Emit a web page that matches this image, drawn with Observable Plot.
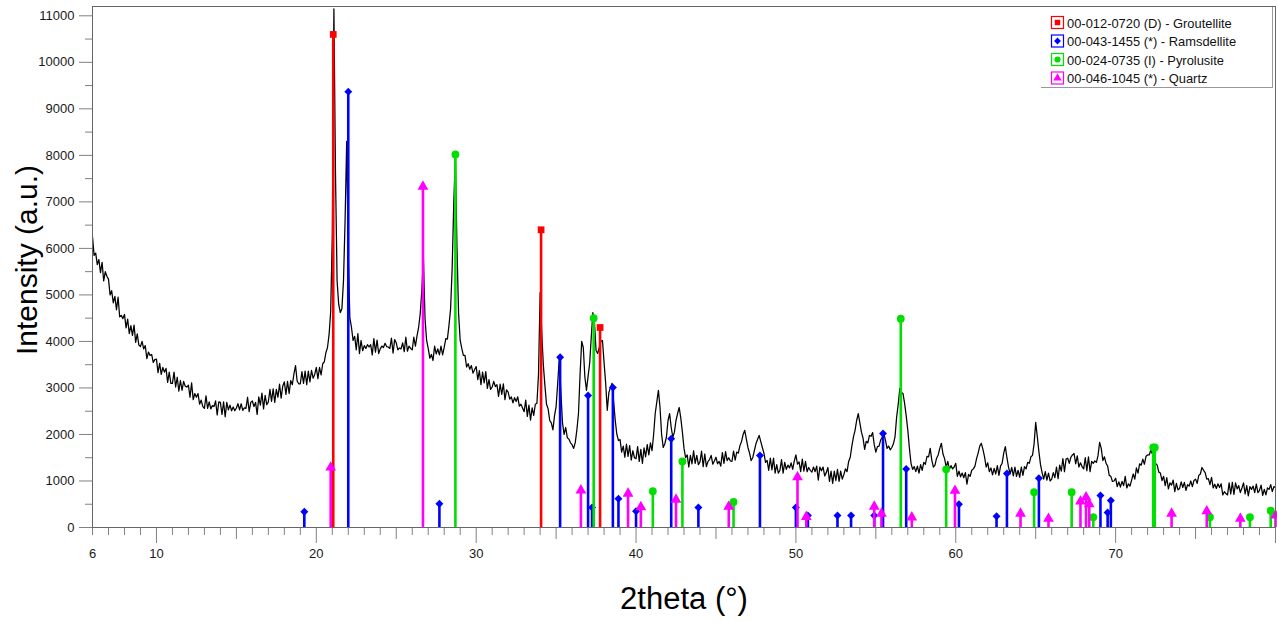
<!DOCTYPE html>
<html><head><meta charset="utf-8">
<script src="https://cdn.jsdelivr.net/npm/d3@7"></script>
<script src="https://cdn.jsdelivr.net/npm/@observablehq/plot@0.6"></script>
<style>
body{margin:0;background:#fff;font-family:"Liberation Sans",Arial,sans-serif}
#wrap{position:relative;width:1277px;height:622px}
#legend{position:absolute;left:1041px;top:7px;width:231px;height:80px;background:#fff;border-right:1px solid #999;border-bottom:1px solid #999;}
</style></head><body><div id="wrap"></div>
<script>
// scan: 2theta from 6 to 80 in steps of 0.1
const scanStart = 6, scanStep = 0.1;
const intensity = [
6250,5850,5900,5650,5760,5480,5700,5300,5500,5400,
5340,5000,5090,4830,4970,4680,4950,4530,4560,4490,
4580,4290,4480,4170,4340,4130,4350,3980,4160,3920,
3890,4000,3840,3910,3630,3770,3700,3720,3550,3610,
3620,3330,3530,3290,3440,3340,3420,3120,3340,3100,
3100,3340,3020,3230,2930,3160,2950,3140,3040,3020,
3060,2800,3110,2750,2880,2800,2880,2650,2740,2600,
2560,2830,2560,2700,2550,2620,2600,2720,2420,2700,
2690,2430,2700,2380,2690,2530,2630,2510,2590,2510,
2570,2660,2530,2660,2520,2570,2560,2800,2490,2690,
2720,2600,2690,2430,2810,2630,2890,2550,2840,2640,
2700,2970,2710,2980,2690,2970,2800,3080,2780,3040,
3130,2860,3140,2880,3160,3070,3300,3480,3150,3090,
3090,3350,3100,3360,3070,3360,3130,3380,3210,3290,
3440,3200,3440,3280,3520,3560,3760,3870,4150,4650,
6300,11150,7600,5300,4800,4620,4700,5300,6600,8300,
5800,4500,4300,4020,4110,3820,4170,3740,4020,3800,
3910,3850,3930,3880,3930,3710,4060,3770,4030,3740,
3840,3900,3870,3960,3890,3880,3850,4070,3750,4040,
3970,3820,3860,3840,3970,3780,4090,3790,3900,3850,
3820,4090,3900,4120,4300,4600,5100,5800,4500,4020,
3850,3640,3720,3590,3900,3730,3840,3710,3900,3710,
3870,4060,4050,4350,4700,5600,7000,7950,6000,4600,
4020,3850,3700,3700,3450,3520,3400,3480,3320,3390,
3460,3180,3370,3070,3340,3110,3350,2990,3180,2970,
3020,3140,3030,3070,2820,3080,2860,3090,2750,2960,
2910,2760,2810,2680,2790,2710,2810,2610,2650,2570,
2490,2740,2390,2630,2310,2570,2410,2650,2670,3300,
5050,4200,3500,3050,2650,2550,2300,2250,2100,2400,
2600,3100,3650,2900,2250,2000,2150,1930,1900,1820,
1780,1700,1830,2100,2450,3300,4000,3870,3230,2950,
3250,3530,4100,4620,4400,3800,3740,3870,4000,4020,
3550,3100,2520,2900,3010,3100,2700,2300,2000,1870,
1890,1620,1750,1510,1790,1530,1760,1450,1650,1500,
1480,1740,1420,1680,1380,1710,1520,1780,1560,1820,
1650,2000,2450,2700,2950,2580,2000,1720,1800,1940,
2300,2450,2150,1940,2050,2300,2450,2580,2350,2050,
1700,1500,1560,1300,1550,1370,1650,1380,1550,1350,
1410,1640,1310,1580,1310,1420,1460,1550,1360,1430,
1510,1370,1420,1320,1610,1380,1630,1440,1500,1430,
1420,1640,1450,1620,1600,1760,1850,2000,2090,1900,
1720,1600,1440,1500,1650,1800,1890,1980,1850,1720,
1600,1400,1440,1230,1490,1240,1490,1170,1350,1170,
1230,1460,1170,1400,1250,1340,1280,1390,1250,1430,
1560,1360,1410,1200,1470,1210,1420,1200,1290,1230,
1190,1300,1200,1320,1020,1300,1220,1300,1110,1180,
1290,990,1210,950,1210,1010,1250,990,1210,1040,
1140,1260,1200,1420,1510,1750,1950,2090,2300,2450,
2250,2050,1920,1680,1850,1820,1980,1960,2040,1780,
1620,1740,1750,1880,1940,2020,1880,1700,1750,1670,
1720,1800,1950,2370,2650,2990,2900,2880,2670,2400,
2090,1700,1380,1250,1310,1200,1320,1170,1350,1230,
1400,1360,1530,1520,1700,1450,1300,1340,1490,1560,
1700,1810,1580,1480,1300,1420,1250,1330,1260,1300,
1380,1100,1210,1090,1170,1070,1180,930,1140,1100,
1230,1260,1320,1480,1600,1750,1810,1680,1520,1300,
1390,1200,1280,1130,1270,1150,1330,1120,1320,1380,
1600,1740,1500,1300,1150,1290,1110,1300,1100,1230,
1080,1300,1120,1310,1260,1400,1380,1520,1550,1800,
2260,1950,1630,1350,1180,1040,1200,1020,1170,1000,
1040,1180,1070,1300,1050,1340,1210,1480,1200,1470,
1490,1380,1510,1560,1590,1370,1540,1300,1390,1310,
1260,1500,1220,1520,1200,1420,1380,1430,1400,1550,
1830,1700,1440,1520,1380,1320,1120,1100,990,1000,
1060,880,980,870,990,900,1100,850,940,890,
1020,1150,1040,1280,1170,1370,1340,1470,1360,1530,
1560,1560,1660,1580,1530,1380,1340,1190,1170,1010,
1100,900,1070,830,960,910,1020,770,950,810,
840,980,860,970,800,920,890,1000,880,1010,
1040,950,1120,1150,1290,1230,1180,1040,1050,920,
1080,850,930,840,940,860,940,700,770,730,
700,960,720,970,710,960,830,900,750,850,
960,720,900,680,880,820,890,750,930,750,
800,910,690,820,700,850,820,920,770,880,
860
];

// reference patterns: [2theta, intensity]
const groutellite = [[21.06,10600],[34.06,6400],[37.75,4300]];
const ramsdellite = [[19.25,340],[22.0,9370],[27.7,510],[35.25,3660],[37.0,2840],[37.25,430],[38.55,3010],[38.9,620],[40.0,350],[42.2,1910],[43.9,430],[47.75,1550],[50.0,430],[50.75,260],[52.6,260],[53.45,260],[54.9,260],[55.45,2020],[56.9,1260],[60.2,500],[62.55,240],[63.2,1160],[65.2,1060],[69.05,690],[69.5,320],[69.7,580]];
const pyrolusite = [[28.7,8020],[37.35,4500],[41.05,780],[42.9,1420],[46.1,550],[56.56,4490],[59.4,1250],[64.9,760],[67.25,760],[68.6,220],[72.35,1720],[72.45,1720],[75.9,220],[78.4,220],[79.7,360]];
const quartz = [[20.9,1290],[26.67,7330],[36.55,800],[39.5,730],[40.3,440],[42.5,600],[45.8,450],[50.1,1080],[50.65,230],[54.9,450],[55.35,300],[57.25,220],[59.95,790],[64.05,300],[65.8,190],[67.8,560],[68.15,650],[68.35,500],[73.5,300],[75.7,350],[77.8,190],[80.0,260]];

const phaseNames = ["00-012-0720 (D) - Groutellite","00-043-1455 (*) - Ramsdellite","00-024-0735 (I) - Pyrolusite","00-046-1045 (*) - Quartz"];
const phaseColors = ["#ff0000","#0000ff","#00e000","#ff00ff"];
const phaseSymbols = ["square","diamond2","circle","triangle"];
const phaseRadius = [3.8,3.6,3.9,4.0];
const phases = [groutellite, ramsdellite, pyrolusite, quartz];

const yTicks = d3.range(0, 11001, 1000);
const yMinor = d3.range(500, 11000, 1000);
const xLabels = [6,10,20,30,40,50,60,70];
const xMajor = [10,20,30,40,50,60,70,80];
const xMid = [15,25,35,45,55,65,75];
const xMinor = d3.range(6, 81).filter(v => v % 5 !== 0);

const scan = intensity.map((v, i) => ({t: scanStart + i * scanStep, v}));
const tick = "#808080";

const stickMarks = phases.flatMap((p, k) => {
  const rows = p.map(([t, v]) => ({t, v}));
  return [
    Plot.ruleX(rows, {x: "t", y1: 0, y2: "v", stroke: phaseColors[k], strokeWidth: 2.6}),
    Plot.dot(rows, {x: "t", y: "v", symbol: phaseSymbols[k], r: phaseRadius[k], fill: phaseColors[k], stroke: "none"})
  ];
});

const chart = Plot.plot({
  width: 1277, height: 622,
  marginLeft: 92, marginRight: 2, marginTop: 6, marginBottom: 95,
  x: {domain: [6, 80], label: null},
  y: {domain: [0, 11200], label: null},
  style: {fontFamily: "'Liberation Sans', Arial, sans-serif", fontSize: "13px", color: "#1a1a1a", background: "#fff"},
  marks: [
    Plot.line(scan, {x: "t", y: "v", stroke: "#000", strokeWidth: 1.25, strokeLinejoin: "round"}),
    ...stickMarks,
    Plot.axisY({ticks: yTicks, tickSize: 13, tickPadding: 5, tickFormat: d => String(d), stroke: tick, label: null}),
    Plot.axisY({ticks: yMinor, tickSize: 7, tickFormat: () => "", stroke: tick, label: null}),
    Plot.axisX({ticks: xMinor, tickSize: 8, tickFormat: () => "", stroke: tick, label: null}),
    Plot.axisX({ticks: xMid, tickSize: 12, tickFormat: () => "", stroke: tick, label: null}),
    Plot.axisX({ticks: xMajor, tickSize: 16, tickFormat: () => "", stroke: tick, label: null}),
    Plot.axisX({ticks: xLabels, tickSize: 0, tickPadding: 21, tickFormat: d => String(d), label: null}),
    Plot.frame({stroke: "#666"}),
    Plot.text(["Intensity (a.u.)"], {frameAnchor: "left", textAnchor: "middle", lineAnchor: "middle", rotate: -90, dx: -65, dy: -7, fontSize: 30, fill: "#000"}),
    Plot.text(["2theta (°)"], {frameAnchor: "bottom", textAnchor: "middle", lineAnchor: "middle", dy: 72, fontSize: 31, fill: "#000"})
  ]
});
const wrap = document.getElementById("wrap");
wrap.appendChild(chart);

// legend (inside plot, top-right)
const leg = d3.select(wrap).append("div").attr("id", "legend");
const svg = leg.append("svg").attr("width", 231).attr("height", 80);
const symMap = {square: d3.symbolSquare, diamond2: d3.symbolDiamond2, circle: d3.symbolCircle, triangle: d3.symbolTriangle};
phaseNames.forEach((name, k) => {
  const cy = 16 + k * 18.5;
  const g = svg.append("g");
  g.append("rect").attr("x", 10.5).attr("y", cy - 6.5).attr("width", 12).attr("height", 12)
    .attr("fill", "#fff").attr("stroke", phaseColors[k]).attr("stroke-width", 1.2);
  g.append("path").attr("transform", `translate(16.5,${cy - 0.5})`)
    .attr("d", d3.symbol(symMap[phaseSymbols[k]], 30)())
    .attr("fill", phaseColors[k]);
  g.append("text").attr("x", 26).attr("y", cy).attr("dy", "0.36em")
    .attr("font-size", 12.9).attr("fill", "#111")
    .attr("font-family", "'Liberation Sans', Arial, sans-serif").text(name);
});
</script></body></html>
